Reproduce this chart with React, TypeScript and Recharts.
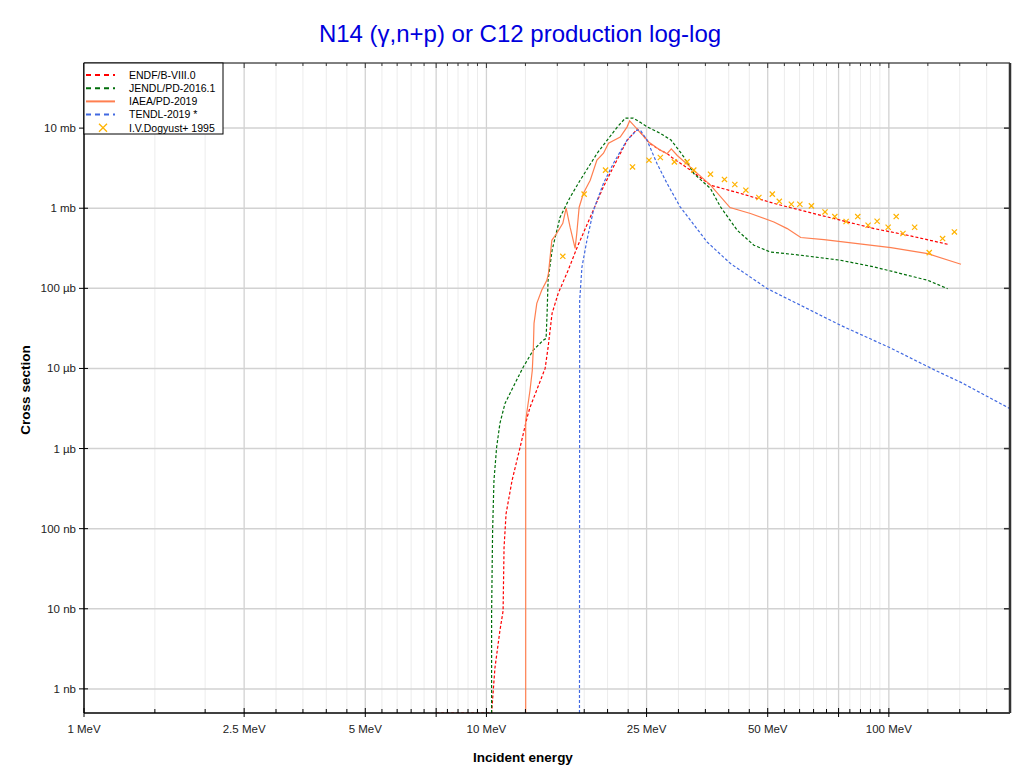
import React from 'react';
import { ComposedChart, Line, Scatter, XAxis, YAxis, ReferenceLine } from 'recharts';

// ---- data: [incident energy (MeV), cross section (mb)] ----
const ENDF_B_VIII_0: [number, number][] = [
  [7.5, 5e-7], [10.3, 5e-7], [10.5, 1.83e-6], [10.8, 5.3e-6], [11.0, 9.4e-6], [11.06, 5.8e-5],
  [11.19, 1.54e-4], [11.58, 4.0e-4], [12.12, 1.03e-3], [12.62, 2.44e-3], [12.83, 3.26e-3],
  [13.99, 0.01], [14.23, 0.0183], [14.56, 0.0487], [15.08, 0.0866], [15.96, 0.168], [16.81, 0.326],
  [18.11, 0.772], [19.51, 1.83], [20.66, 3.25], [22.38, 7.08], [23.7, 9.7], [24.12, 8.9],
  [25.5, 6.4], [27.05, 5.3], [28.1, 4.83], [28.9, 4.3], [32.13, 2.99], [36.04, 1.94], [42.8, 1.53],
  [51.8, 1.15], [62.7, 0.899], [75.9, 0.708], [91.9, 0.557], [111.3, 0.46], [140, 0.355],
];

const JENDL_PD_2016_1: [number, number][] = [
  [10.3, 5e-7], [10.3, 8.66e-6], [10.36, 9.44e-5], [10.44, 3.98e-4], [10.6, 1.03e-3], [10.8, 2.05e-3],
  [11.12, 3.65e-3], [11.64, 5.79e-3], [12.33, 0.0103], [13.06, 0.0168], [13.82, 0.0224], [14.07, 0.0237],
  [14.15, 0.0487], [14.23, 0.126], [14.56, 0.299], [15.24, 0.772], [16.14, 1.37], [17.1, 2.24],
  [18.85, 4.87], [19.96, 7.08], [21.14, 10.3], [22.13, 13.3], [23.17, 13.3], [24.12, 11.8],
  [25.06, 10.4], [27.05, 8.6], [28.75, 7.1], [30.3, 5.05], [30.93, 4.38], [32.75, 2.71], [36.04, 1.76],
  [38.16, 1.04], [42.0, 0.531], [46.2, 0.345], [50.8, 0.284], [60.4, 0.259], [75.9, 0.224],
  [91.9, 0.185], [107.1, 0.153], [124.9, 0.126], [140, 0.099],
];

const IAEA_PD_2019: [number, number][] = [
  [12.52, 5e-7], [12.52, 2.24e-3], [12.59, 2.74e-3], [12.83, 5.31e-3], [13.0, 9.44e-3], [13.08, 0.0183],
  [13.13, 0.0365], [13.34, 0.0649], [13.72, 0.0944], [14.13, 0.126], [14.26, 0.154], [14.54, 0.398],
  [14.96, 0.487], [15.48, 0.649], [15.78, 1.0], [16.14, 0.579], [16.61, 0.316], [16.77, 0.487],
  [17.0, 1.03], [17.42, 1.54], [18.11, 2.24], [18.82, 3.98], [19.54, 4.87], [20.11, 6.49], [21.5, 7.72],
  [22.35, 10.3], [22.69, 12.3], [23.21, 10.9], [24.12, 8.8], [25.4, 6.6], [27.05, 5.31], [28.11, 4.8],
  [28.8, 5.5], [29.8, 4.55], [32.75, 2.99], [36.04, 1.94], [40.3, 1.02], [45.3, 0.859], [51.8, 0.674],
  [55.9, 0.557], [60.4, 0.431], [69.0, 0.406], [83.6, 0.362], [101.2, 0.323], [124.9, 0.271], [151.1, 0.2],
];

const TENDL_2019: [number, number][] = [
  [17.03, 5e-7], [17.05, 0.0708], [17.27, 0.183], [17.77, 0.398], [18.45, 0.944], [19.54, 2.05],
  [20.69, 3.65], [22.35, 7.08], [23.66, 9.44], [24.12, 9.44], [25.06, 7.08], [26.53, 3.62], [28.11, 2.04],
  [30.3, 1.04], [35.35, 0.379], [40.4, 0.204], [49.9, 0.0991], [60.4, 0.0613], [75.9, 0.0345],
  [101.2, 0.0179], [129.7, 9.6e-3], [151.1, 6.7e-3], [200, 3.15e-3],
];

const DOGYUST_1995: [number, number][] = [
  [15.48, 0.251], [17.49, 1.5], [19.77, 2.99], [23.07, 3.28], [25.35, 3.98], [27.05, 4.3], [29.31, 3.79],
  [31.52, 3.79], [32.75, 2.99], [36.04, 2.66], [39.04, 2.29], [41.42, 1.98], [44.12, 1.68], [47.53, 1.36],
  [51.33, 1.5], [53.42, 1.22], [57.24, 1.12], [60.1, 1.12], [64.2, 1.07], [69.4, 0.899], [73.4, 0.787],
  [78.3, 0.682], [83.7, 0.787], [88.8, 0.613], [93.5, 0.688], [99.6, 0.579], [104.3, 0.787], [108.4, 0.483],
  [115.9, 0.579], [126.0, 0.279], [136.0, 0.418], [145.5, 0.506],
];

// ---- axes ----
const X_DOMAIN: [number, number] = [1, 200];
const Y_DOMAIN: [number, number] = [5e-7, 65];
const X_LABELS: Record<string, string> = {
  '1': '1 MeV', '2.5': '2.5 MeV', '5': '5 MeV', '10': '10 MeV', '25': '25 MeV', '50': '50 MeV', '100': '100 MeV',
};
const X_MAJOR = [1, 2.5, 5, 7.5, 10, 25, 50, 75, 100];
const X_MINOR = [1.5, 2, 3, 3.5, 4, 4.5, 5.5, 6, 6.5, 7, 8, 8.5, 9, 9.5, 12.5, 15, 17.5, 20, 22.5,
  30, 35, 40, 45, 55, 60, 65, 70, 80, 85, 90, 95, 125, 150, 175];
const X_TICKS = [...X_MAJOR, ...X_MINOR].sort((a, b) => a - b);
const Y_TICKS = [1e-6, 1e-5, 1e-4, 1e-3, 1e-2, 1e-1, 1, 10];
const Y_LABELS = ['1 nb', '10 nb', '100 nb', '1 µb', '10 µb', '100 µb', '1 mb', '10 mb'];

const toRows = (arr: [number, number][]) => arr.map(([e, xs]) => ({ e, xs }));

const SERIES = [
  { name: 'ENDF/B-VIII.0', data: ENDF_B_VIII_0, color: '#ff0000', dash: '3 2' },
  { name: 'JENDL/PD-2016.1', data: JENDL_PD_2016_1, color: '#006e0a', dash: '3 2' },
  { name: 'IAEA/PD-2019', data: IAEA_PD_2019, color: '#ff7f50', dash: undefined as string | undefined },
  { name: 'TENDL-2019 *', data: TENDL_2019, color: '#4169e1', dash: '3 2' },
];
const EXP = { name: 'I.V.Dogyust+ 1995', data: DOGYUST_1995, color: '#ffb300' };

const FONT = 'Liberation Sans, Arial, Helvetica, sans-serif';

const XTickBottom = (p: any) => {
  const v = p.payload.value;
  const major = X_MAJOR.includes(v);
  const label = X_LABELS[String(v)];
  return (
    <g>
      <line x1={p.x} x2={p.x} y1={p.y + (major ? 4 : 0)} y2={p.y - (major ? 5 : 4)} stroke="#000" strokeWidth={1} />
      {label && (
        <text x={p.x} y={p.y + 20} textAnchor="middle" fontSize={11.5} fontFamily={FONT} fill="#222">{label}</text>
      )}
    </g>
  );
};
const XTickTop = (p: any) => {
  const v = p.payload.value;
  const major = X_MAJOR.includes(v);
  return <line x1={p.x} x2={p.x} y1={p.y} y2={p.y + (major ? 5 : 3)} stroke="#333" strokeWidth={1} />;
};
const YTickLeft = (p: any) => {
  const i = Y_TICKS.findIndex((t) => Math.abs(Math.log10(t) - Math.log10(p.payload.value)) < 1e-6);
  return (
    <g>
      <line x1={p.x - 5} x2={p.x + 4} y1={p.y} y2={p.y} stroke="#000" strokeWidth={1} />
      <text x={p.x - 8} y={p.y + 4} textAnchor="end" fontSize={11.5} fontFamily={FONT} fill="#222">
        {i >= 0 ? Y_LABELS[i] : ''}
      </text>
    </g>
  );
};
const YTickRight = (p: any) => <line x1={p.x} x2={p.x - 6} y1={p.y} y2={p.y} stroke="#333" strokeWidth={1.5} />;

const Cross = (p: any) => {
  const { cx, cy } = p;
  if (cx == null || cy == null) return <g />;
  const s = 2.6;
  return (
    <path d={`M${cx - s},${cy - s}L${cx + s},${cy + s}M${cx - s},${cy + s}L${cx + s},${cy - s}`}
      stroke={EXP.color} strokeWidth={1.2} fill="none" />
  );
};

export default function App() {
  const W = 1010;
  const H = 757;
  return (
    <div style={{ position: 'relative', width: W, height: H }}>
      <ComposedChart width={W} height={H} margin={{ top: 54, right: 0, bottom: 0, left: 0 }}>
        <XAxis dataKey="e" type="number" scale="log" domain={X_DOMAIN} allowDataOverflow ticks={X_TICKS}
          interval={0} tickSize={0} tickMargin={0} tickLine={false} tick={XTickBottom} height={52}
          axisLine={{ stroke: '#000', strokeWidth: 1.5 }} />
        <XAxis xAxisId="top" orientation="top" dataKey="e" type="number" scale="log" domain={X_DOMAIN}
          allowDataOverflow ticks={X_TICKS} interval={0} tickSize={0} tickMargin={0} tickLine={false}
          tick={XTickTop} height={1} axisLine={{ stroke: '#000', strokeWidth: 1 }} />
        <YAxis dataKey="xs" type="number" scale="log" domain={Y_DOMAIN} allowDataOverflow ticks={Y_TICKS}
          interval={0} tickSize={0} tickMargin={0} tickLine={false} tick={YTickLeft} width={76}
          axisLine={{ stroke: '#000', strokeWidth: 1.5 }} />
        <YAxis yAxisId="right" orientation="right" dataKey="xs" type="number" scale="log" domain={Y_DOMAIN}
          allowDataOverflow ticks={Y_TICKS} interval={0} tickSize={0} tickMargin={0} tickLine={false}
          tick={YTickRight} width={8} axisLine={{ stroke: '#333', strokeWidth: 2.5 }} />

        {X_MINOR.map((v) => (
          <ReferenceLine key={'xm' + v} x={v} stroke="#ececec" strokeWidth={1} />
        ))}
        {X_MAJOR.filter((v) => v > 1).map((v) => (
          <ReferenceLine key={'xM' + v} x={v} stroke="#d2d2d2" strokeWidth={1.3} />
        ))}
        {Y_TICKS.map((v) => (
          <ReferenceLine key={'y' + v} y={v} stroke="#d2d2d2" strokeWidth={1.5} />
        ))}

        {SERIES.map((s) => (
          <Line key={s.name} name={s.name} data={toRows(s.data)} dataKey="xs" type="linear" dot={false}
            activeDot={false} stroke={s.color} strokeWidth={1.2} strokeDasharray={s.dash}
            isAnimationActive={false} />
        ))}
        <Scatter name={EXP.name} data={toRows(EXP.data)} dataKey="xs" fill={EXP.color} shape={Cross}
          isAnimationActive={false} />
      </ComposedChart>

      <svg width={W} height={H} style={{ position: 'absolute', left: 0, top: 0, pointerEvents: 'none' }}>
        <text x={512} y={34} textAnchor="middle" fontSize={24} fontFamily={FONT} fill="#0000dd">
          N14 (γ,n+p) or C12 production log-log
        </text>
        <text x={17} y={382} transform="rotate(-90 17 382)" textAnchor="middle" dy="0.35em"
          fontSize={13.5} fontWeight="bold" fontFamily={FONT} fill="#000">Cross section</text>
        <text x={515} y={749} textAnchor="middle" dy="0.35em" fontSize={13.5} fontWeight="bold"
          fontFamily={FONT} fill="#000">Incident energy</text>

        <g>
          <rect x={76} y={55} width={139} height={71} fill="#fff" stroke="#000" strokeWidth={1} />
          {SERIES.map((s, i) => {
            const y = 67 + i * 13.2;
            return (
              <g key={s.name}>
                <line x1={78} x2={107} y1={y} y2={y} stroke={s.color} strokeWidth={2}
                  strokeDasharray={s.dash ? '5 4' : undefined} />
                <text x={121} y={y + 3.8} fontSize={10.5} fontFamily={FONT} fill="#000">{s.name}</text>
              </g>
            );
          })}
          {(() => {
            const y = 67 + 4 * 13.2;
            const cx = 95;
            const s = 4;
            return (
              <g>
                <path d={`M${cx - s},${y - s}L${cx + s},${y + s}M${cx - s},${y + s}L${cx + s},${y - s}`}
                  stroke={EXP.color} strokeWidth={1.3} />
                <text x={121} y={y + 3.8} fontSize={10.5} fontFamily={FONT} fill="#000">{EXP.name}</text>
              </g>
            );
          })()}
        </g>
      </svg>
    </div>
  );
}
